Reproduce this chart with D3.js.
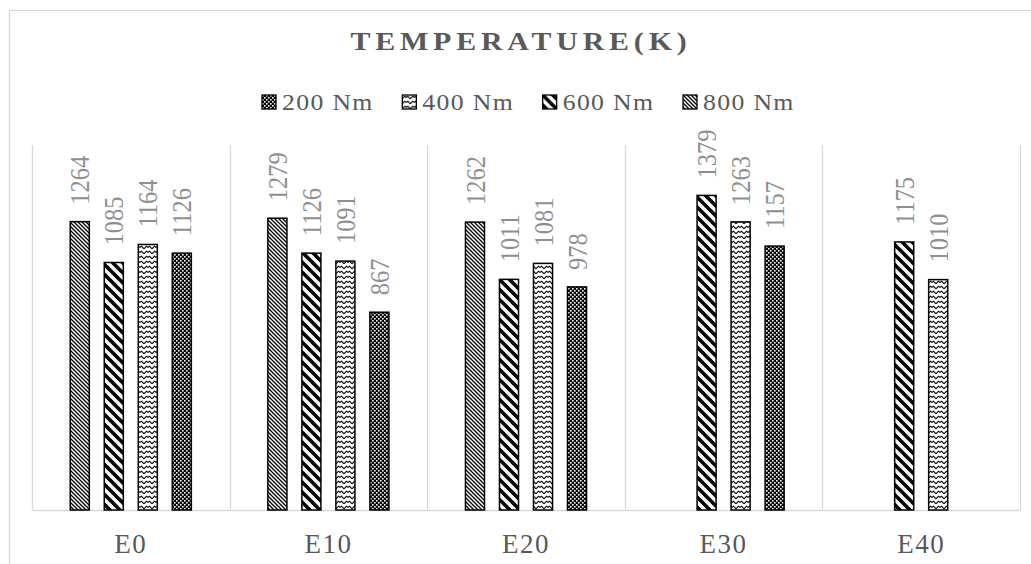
<!DOCTYPE html>
<html>
<head>
<meta charset="utf-8">
<script src="https://cdn.jsdelivr.net/npm/d3@7/dist/d3.min.js"></script>
<style>
  html, body { margin: 0; padding: 0; background: #fff; }
  svg { display: block; }
</style>
</head>
<body>
<script>
// Torque load cases and engine blends
const categories = ["E0", "E10", "E20", "E30", "E40"];
const legendOrder = ["200 Nm", "400 Nm", "600 Nm", "800 Nm"];
// Bars within each blend are drawn in this order
const barOrder = ["800 Nm", "600 Nm", "400 Nm", "200 Nm"];

// Temperature (K) per torque, one value per blend (null = not measured)
const t800 = [1264, 1279, 1262, null, null];
const t600 = [1085, 1126, 1011, 1379, 1175];
const t400 = [1164, 1091, 1081, 1263, 1010];
const t200 = [1126, 867, 978, 1157, null];

const yTicks = [0, 1600];

const seriesValues = { "800 Nm": t800, "600 Nm": t600, "400 Nm": t400, "200 Nm": t200 };
const patternId = { "800 Nm": "pNarrowDiag", "600 Nm": "pWideDiag", "400 Nm": "pWave", "200 Nm": "pCheck" };

const SERIF = "'Liberation Serif', 'Times New Roman', serif";
const W = 1031, H = 564;
const svg = d3.select("body").append("svg").attr("width", W).attr("height", H);

// Fill patterns
const defs = svg.append("defs");
{
  const p = defs.append("pattern").attr("id", "pNarrowDiag").attr("patternUnits", "userSpaceOnUse")
    .attr("width", 4).attr("height", 4);
  p.append("rect").attr("width", 4).attr("height", 4).attr("fill", "#fff");
  p.append("path").attr("d", "M-1,-1 L5,5 M-1,3 L1,5 M3,-1 L5,1")
    .attr("stroke", "#000").attr("stroke-width", 1.3);
}
{
  const p = defs.append("pattern").attr("id", "pWideDiag").attr("patternUnits", "userSpaceOnUse")
    .attr("width", 10).attr("height", 10);
  p.append("rect").attr("width", 10).attr("height", 10).attr("fill", "#fff");
  p.append("path").attr("d", "M-2,-2 L12,12 M-2,8 L2,12 M8,-2 L12,2")
    .attr("stroke", "#000").attr("stroke-width", 3.6);
}
{
  const p = defs.append("pattern").attr("id", "pWave").attr("patternUnits", "userSpaceOnUse")
    .attr("width", 8).attr("height", 5);
  p.append("rect").attr("width", 8).attr("height", 5).attr("fill", "#fff");
  p.append("path").attr("d", "M0,3.8 L2.5,1.2 L4,2.4 L5.5,1.2 L8,3.8")
    .attr("fill", "none").attr("stroke", "#000").attr("stroke-width", 1.1);
}
{
  const p = defs.append("pattern").attr("id", "pCheck").attr("patternUnits", "userSpaceOnUse")
    .attr("width", 4).attr("height", 4);
  p.append("rect").attr("width", 4).attr("height", 4).attr("fill", "#000");
  p.append("rect").attr("x", 0).attr("y", 0).attr("width", 1.6).attr("height", 1.6).attr("fill", "#fff");
  p.append("rect").attr("x", 2).attr("y", 2).attr("width", 1.6).attr("height", 1.6).attr("fill", "#fff");
}

// Outer chart frame
svg.append("rect").attr("x", 9.5).attr("y", 10.5).attr("width", W + 20).attr("height", H + 20)
  .attr("fill", "none").attr("stroke", "#d9d9d9").attr("stroke-width", 1.3);

const plot = { left: 32, right: 1020, top: 145, bottom: 510 };

const x0 = d3.scaleBand().domain(categories).range([plot.left, plot.right]).padding(0);
const x1 = d3.scaleBand().domain(barOrder).range([0, x0.bandwidth()])
  .paddingInner(0.44).paddingOuter(1.125);
const y = d3.scaleLinear().domain(d3.extent(yTicks)).range([plot.bottom, plot.top]);

// Category separators
const seps = categories.map(c => x0(c)).concat([plot.right]);
svg.append("g").selectAll("line").data(seps).join("line")
  .attr("x1", d => Math.round(d) + 0.5).attr("x2", d => Math.round(d) + 0.5)
  .attr("y1", plot.top).attr("y2", plot.bottom)
  .attr("stroke", "#d9d9d9").attr("stroke-width", 1.3);

// Category axis
const xAxis = svg.append("g").attr("transform", `translate(0,${plot.bottom})`)
  .call(d3.axisBottom(x0).tickSize(0).tickPadding(24));
xAxis.select(".domain").attr("stroke", "#d9d9d9").attr("stroke-width", 1.3);
xAxis.selectAll("text").attr("font-family", SERIF)
  .attr("font-size", 27).attr("fill", "#595959").attr("letter-spacing", 1.5);

// Bars
const rows = [];
categories.forEach((c, i) => {
  barOrder.forEach(s => {
    const v = seriesValues[s][i];
    if (v != null) rows.push({ c, s, v });
  });
});

const bars = svg.append("g");
bars.selectAll("rect").data(rows).join("rect")
  .attr("x", d => x0(d.c) + x1(d.s))
  .attr("y", d => y(d.v))
  .attr("width", x1.bandwidth())
  .attr("height", d => y(0) - y(d.v))
  .attr("fill", d => `url(#${patternId[d.s]})`)
  .attr("stroke", "#000").attr("stroke-width", 1.5);

// Value labels, rotated
svg.append("g").selectAll("text").data(rows).join("text")
  .attr("transform", d => `translate(${x0(d.c) + x1(d.s) + x1.bandwidth() / 2},${y(d.v) - 17}) rotate(-90) scale(1,1.12)`)
  .attr("dy", "0.35em")
  .attr("text-anchor", "start")
  .attr("font-family", SERIF)
  .attr("font-size", 24.5).attr("fill", "#8f8f8f")
  .text(d => d.v);

// Title
svg.append("text").attr("transform", "translate(521,50) scale(1.15,1)").attr("text-anchor", "middle")
  .attr("font-family", SERIF)
  .attr("font-size", 26).attr("font-weight", "bold").attr("letter-spacing", 4.2)
  .attr("fill", "#595959").text("TEMPERATURE(K)");

// Legend
const legend = svg.append("g");
const lx = d3.scalePoint().domain(legendOrder).range([262, 683]);
const items = legend.selectAll("g").data(legendOrder).join("g")
  .attr("transform", d => `translate(${lx(d)},95)`);
items.append("rect").attr("width", 14).attr("height", 14)
  .attr("fill", d => `url(#${patternId[d]})`).attr("stroke", "#000").attr("stroke-width", 1.3);
items.append("text").attr("transform", "translate(20,15) scale(1.12,1)")
  .attr("font-family", SERIF)
  .attr("font-size", 23).attr("letter-spacing", 1.2).attr("fill", "#595959")
  .text(d => d);
</script>
</body>
</html>
